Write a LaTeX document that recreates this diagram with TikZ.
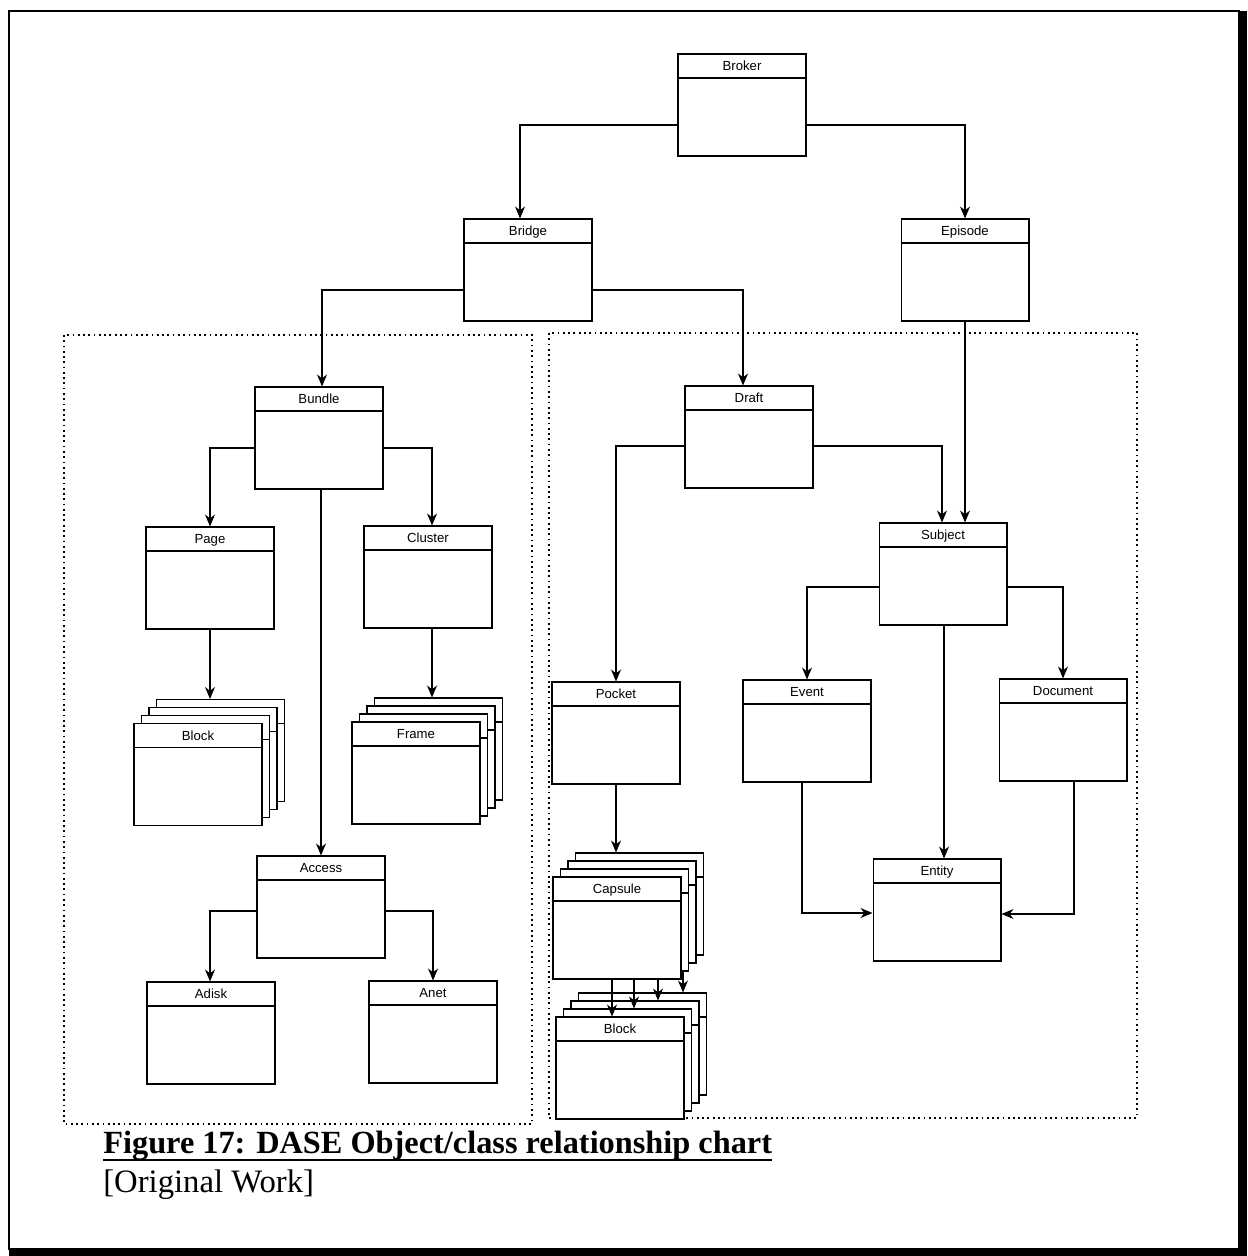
\documentclass[tikz,border=0pt]{standalone}
\usepackage{fontspec}
\setmainfont{Liberation Serif}
\setsansfont{Liberation Sans}
\usetikzlibrary{arrows.meta}
\tikzset{
  cls/.style={draw, fill=white, line width=0.6pt, inner sep=0pt,
    text width=2.56cm, align=center, text height=3.35mm, text depth=17.05mm,
    font=\sffamily\fontsize{7.5}{9}\selectfont,
    path picture={\draw[line width=1pt] ([yshift=-4.8mm]path picture bounding box.north west)
      -- ([yshift=-4.8mm]path picture bounding box.north east);}},
  arr/.style={-{Stealth[length=2.4mm, width=2mm]}, line width=0.6pt},
  panel/.style={dotted, line width=1pt}
}

\begin{document}
\begin{tikzpicture}[x=0.02cm, y=-0.02cm]
  \useasboundingbox (0,0) rectangle (1247,1256);

  % Page frame with shadow.
  \draw[line width=0.8pt] (9,1250) -- (9,11) -- (1240,11);
  \fill (1238,11) rectangle (1247,1256);
  \fill (9,1248) rectangle (1247,1256);

  % Dotted panels.
  \draw[panel] (64,335) rectangle (532,1124);
  \draw[panel] (549,333) rectangle (1137,1118);

  % Top levels.
  \node[cls] (broker)  at (742,105) {Broker};
  \node[cls] (bridge)  at (528,270) {Bridge};
  \node[cls] (episode) at (965,270) {Episode};

  % Left panel.
  \node[cls] (bundle)  at (319,438) {Bundle};
  \node[cls] (page)    at (210,578) {Page};
  \node[cls] (cluster) at (428,577) {Cluster};
  \foreach \i in {3,2,1} {
    \node[cls] (blockl-\i) at (198+7.5*\i,774.5-8*\i) {};
    \node[cls] (frame-\i)  at (416+7.5*\i,773-8*\i) {};
  }
  \node[cls] (blockl) at (198,774.5) {Block};
  \node[cls] (frame)  at (416,773) {Frame};
  \node[cls] (access) at (321,907) {Access};
  \node[cls] (adisk)  at (211,1033) {Adisk};
  \node[cls] (anet)   at (433,1032) {Anet};

  % Right panel.
  \node[cls] (draft)    at (749,437) {Draft};
  \node[cls] (subject)  at (943,574) {Subject};
  \node[cls] (pocket)   at (616,733) {Pocket};
  \node[cls] (event)    at (807,731) {Event};
  \node[cls] (document) at (1063,730) {Document};
  \node[cls] (entity)   at (937,910) {Entity};
  \foreach \i in {3,2,1} {
    \node[cls] (capsule-\i) at (617+7.5*\i,928-8*\i) {};
  }
  \node[cls] (capsule) at (617,928) {Capsule};
  \foreach \i in {3,2,1} {
    \node[cls] (blockr-\i) at (620+7.5*\i,1068-8*\i) {};
  }
  \node[cls] (blockr) at (620,1068) {Block};

  % Connectors.
  \draw[arr] ([yshift=-4mm]broker.west) -| ([xshift=-1.6mm]bridge.north);
  \draw[arr] ([yshift=-4mm]broker.east) -| (episode.north);
  \draw[arr] ([yshift=-4mm]bridge.west) -| ([xshift=0.6mm]bundle.north);
  \draw[arr] ([yshift=-4mm]bridge.east) -| ([xshift=-1.2mm]draft.north);
  \draw[arr] (episode.south) -- (episode.south |- subject.north);

  \draw[arr] ([yshift=-2mm]bundle.west) -| (page.north);
  \draw[arr] ([yshift=-2mm]bundle.east) -| ([xshift=0.8mm]cluster.north);
  \draw[arr] ([xshift=0.4mm]bundle.south) -- ([xshift=0.4mm]bundle.south |- access.north);
  \draw[arr] (page.south) -- (page.south |- blockl-3.north);
  \draw[arr] ([xshift=0.8mm]cluster.south) -- ([xshift=0.8mm]cluster.south |- frame-3.north);
  \draw[arr] ([yshift=-0.8mm]access.west) -| ([xshift=-0.2mm]adisk.north);
  \draw[arr] ([yshift=-0.8mm]access.east) -| (anet.north);

  \draw[arr] ([yshift=-1.8mm]draft.east) -| ([xshift=-0.2mm]subject.north);
  \draw[arr] ([yshift=-1.8mm]draft.west) -| (pocket.north);
  \draw[arr] ([yshift=-2.6mm]subject.west) -| (event.north);
  \draw[arr] ([yshift=-2.6mm]subject.east) -| (document.north);
  \draw[arr] ([xshift=0.2mm]subject.south) -- ([xshift=0.2mm]subject.south |- entity.north);
  \draw[arr] ([xshift=-1mm]event.south) |- ([yshift=-0.6mm]entity.west);
  \draw[arr] ([xshift=2.2mm]document.south) |- ([yshift=-0.8mm]entity.east);
  \draw[arr] (pocket.south) -- (pocket.south |- capsule-3.north);

  % Capsule layers to block layers.
  \draw[arr] ([xshift=-1mm]capsule.south) -- ([xshift=-1mm]capsule.south |- blockr.north);
  \draw[arr] ([xshift=3.4mm]capsule.south) -- ([xshift=3.4mm]capsule.south |- blockr-1.north);
  \draw[arr] ([xshift=8.2mm]capsule.south) -- ([xshift=8.2mm]capsule.south |- blockr-2.north);
  \draw[arr] ([xshift=11.7mm]capsule-1.south) -- ([xshift=11.7mm]capsule-1.south |- blockr-3.north);

  % Caption.
  \node[anchor=base west, inner sep=0pt, font=\bfseries\fontsize{18.4}{22}\selectfont]
    (caption) at (103,1153) {Figure 17: DASE Object/class relationship chart};
  \draw[line width=0.8pt] ([yshift=-1.4mm]caption.base west) -- ([yshift=-1.4mm]caption.base east);
  \node[anchor=base west, inner sep=0pt, font=\fontsize{18.6}{22}\selectfont]
    (source) at (103,1192) {[Original Work]};
\end{tikzpicture}
\end{document}
